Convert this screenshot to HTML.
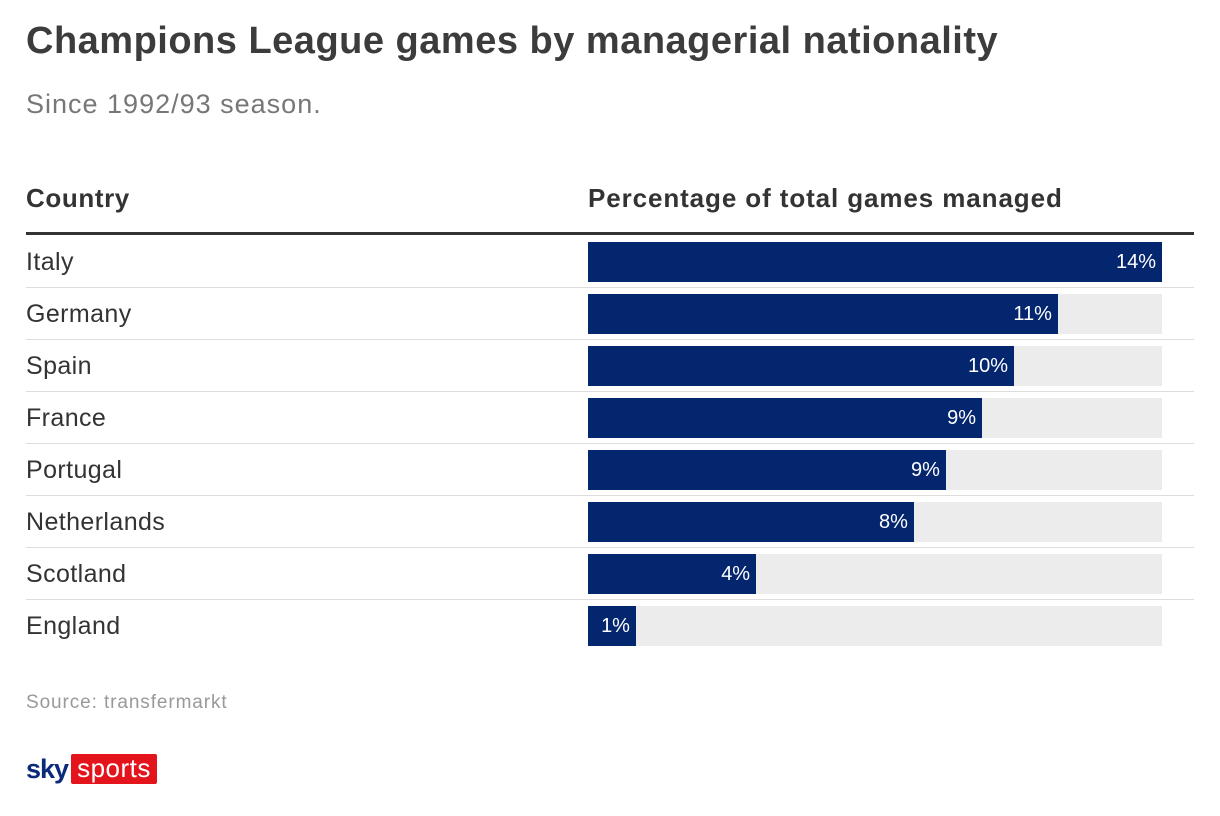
<!DOCTYPE html>
<html><head><meta charset="utf-8">
<style>
body{margin:0;width:1220px;height:816px;background:#fff;font-family:"Liberation Sans",sans-serif;color:#333;position:relative;overflow:hidden}
.abs{position:absolute}
</style></head><body>
<div class="abs" style="left:26px;top:20px;font-size:38px;font-weight:bold;color:#3c3c3c;letter-spacing:0.5px">Champions League games by managerial nationality</div>
<div class="abs" style="left:26px;top:89px;font-size:27px;color:#777;letter-spacing:1px">Since 1992/93 season.</div>
<div class="abs" style="left:26px;top:183px;font-size:26px;font-weight:bold;color:#333;letter-spacing:0.6px">Country</div>
<div class="abs" style="left:588px;top:183px;font-size:26px;font-weight:bold;color:#333;letter-spacing:0.9px">Percentage of total games managed</div>
<div class="abs" style="left:26px;top:232px;width:1168px;height:3px;background:#333"></div>
<div id="rows"></div>
<div class="abs" style="left:26px;top:692px;font-size:19px;color:#999;letter-spacing:0.9px">Source: transfermarkt</div>
<div class="abs" style="left:26px;top:753px;height:32px;display:flex;align-items:center">
<span style="font-size:27px;font-weight:bold;color:#0b2a7a;letter-spacing:-1px;margin-right:3px">sky</span>
<span style="background:#e3141b;color:#fff;font-size:26px;padding:0 6px;height:30px;line-height:28px;border-radius:2px;letter-spacing:0.5px">sports</span>
</div>
<script>
const countries=["Italy","Germany","Spain","France","Portugal","Netherlands","Scotland","England"];
const values=[14.0,11.46,10.39,9.61,8.73,7.95,4.10,1.17];
const labels=["14%","11%","10%","9%","9%","8%","4%","1%"];
const maxVal=14.0;
const x0=588,trackW=574,top0=242,pitch=52,barH=40;
const xs=v=>v/maxVal*trackW;
const root=document.getElementById('rows');
countries.forEach((c,i)=>{
  const y=top0+i*pitch;
  const lab=document.createElement('div');lab.className='abs';
  
  
  lab.style.cssText=`left:26px;top:${y+6}px;font-size:25px;color:#333;letter-spacing:0.4px`;lab.textContent=c;root.appendChild(lab);
  const tr=document.createElement('div');tr.className='abs';
  
  
  tr.style.cssText=`left:${x0}px;top:${y}px;width:${trackW}px;height:${barH}px;background:#ececec`;root.appendChild(tr);
  const b=document.createElement('div');b.className='abs';
  
  
  const w=xs(values[i]);
  b.style.cssText=`left:${x0}px;top:${y}px;width:${w}px;height:${barH}px;background:#04266e`;root.appendChild(b);
  const v=document.createElement('div');v.className='abs';
  
  
  v.style.cssText=`left:${x0}px;top:${y+9}px;width:${w-6}px;text-align:right;font-size:20px;color:#fff`;v.textContent=labels[i];root.appendChild(v);
  if(i<countries.length-1){
    const s=document.createElement('div');s.className='abs';
    
    
    s.style.cssText=`left:26px;top:${y+barH+5}px;width:1168px;height:1px;background:#ddd`;root.appendChild(s);
  }
});
</script>
</body></html>
